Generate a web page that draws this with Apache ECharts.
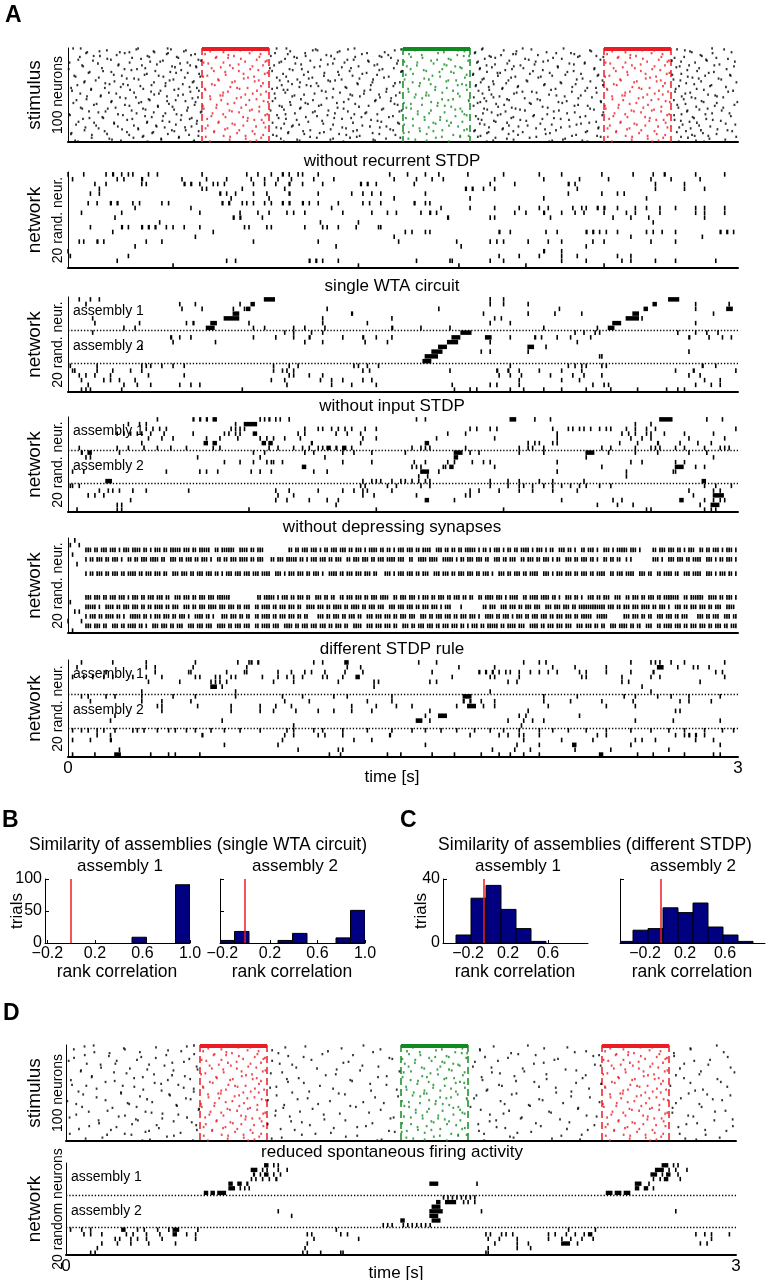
<!DOCTYPE html>
<html><head><meta charset="utf-8">
<script src="https://cdn.jsdelivr.net/npm/echarts@6/dist/echarts.min.js"></script>
<style>html,body{margin:0;padding:0;background:#fff}#c{width:767px;height:1280px}</style>
</head><body><div id="c"></div>
<script>
// ================= DATA =================
const timeTicks = [0, 3];
const patternLength = 0.3; // s
const patternWindows = [{start: 0.6, pattern: 'red'}, {start: 1.5, pattern: 'green'}, {start: 2.4, pattern: 'red'}];
const assemblyBounds = [6.5, 13.5];
const netTitles = ['without recurrent STDP', 'single WTA circuit', 'without input STDP', 'without depressing synapses', 'different STDP rule'];

// stimulus A background spikes, ms (100 input neurons, one string per neuron)
const stimA_background = [
"23 57 314 446 934 978 1283 1857 2036 2219 2884","306 461 1109 1254 1492 1853 2075 2727 2938","174 528 1096 1117 1463 1951 2337 2762","141 383 519 995 1216 2008 2343 2785",
"86 232 275 387 1207 1418 1824 2143 2793 2971","81 254 448 927 1062 1339 1821 2186 2252 2886","442 569 984 1316 1993 2005 2267","218 551 1157 1434 1939 2104 2832",
"115 143 356 908 1064 1178 1395 1887 2291 2366 2838","53 364 487 1013 1286 1404 1894 2283 2397 2759","287 494 1025 1446 1913 2172 2716 2903","176 327 972 1193 1866 2047 2211 2955",
"46 192 584 1132 1251 1279 2063 2384 2857","112 425 596 1085 1343 1478 1976 2149 2704 2861","368 413 955 1347 1836 2094 2128 2745 2986","7 276 535 946 1238 1831 2314 2808",
"134 502 1018 1186 1473 1967 2245 2313","227 398 1044 1163 1385 1912 2089 2265 2917","63 225 331 547 923 1372 1874 2026 2781 2894","68 466 573 1128 1301 1996 2192 2739 2982",
"479 575 1103 1226 1898 2194 2724","152 346 904 1267 1459 1845 2039 2358 2826","3 253 309 992 1047 1408 1843 1988 2356 2949","284 507 1006 1394 1958 2126 2773",
"157 391 914 1261 1496 2082 2264 2817","97 194 458 1075 1209 1491 1876 2236 2892","92 484 536 1148 1337 1923 1935 2157 2869","353 587 963 1318 1815 2068 2297 2746",
"205 343 1056 1213 1384 1813 2227 2375 2706 2964","28 241 406 1146 1274 1925 2168 2371 2853 2967","34 427 592 977 1436 2003 2117 2775","138 523 935 1094 1415 1984 2106 2796",
"263 296 1078 1305 1862 2304 2824 2913","316 472 1027 1225 1366 1855 2278 2711 2925","124 455 948 1165 1196 1972 2053 2393 2742","75 208 563 986 1174 1903 2057 2339 2835",
"72 385 558 1039 1363 1486 1848 2205 2993","167 437 1113 1295 1464 1962 2209 2768","186 247 514 1003 1298 1906 2135 2273 2804","42 268 374 957 1068 1356 1827 2131 2395 2881",
"324 436 1087 1121 1457 1825 2016 2736 2875","236 544 1036 1242 1884 2013 2258 2946","14 165 577 936 1247 1946 2325 2364","104 337 495 914 1188 1427 1944 2183 2721 2815",
"103 278 476 965 983 1354 1886 2163 2847","18 414 586 1136 1327 1838 2316 2978","372 548 1154 1425 2035 2077 2256 2718 2956","183 296 973 1218 1485 2009 2098 2367 2786",
"55 216 407 925 1104 1325 1856 1997 2764","386 515 1057 1264 1393 1896 2154 2866","147 493 1014 1273 1468 2187 2296 2898","85 146 443 1004 1307 1932 2224 2748 2906",
"233 304 582 1185 1397 1817 1905 2346 2792 2934","258 557 928 1158 1447 1864 2045 2285 2809","83 361 1043 1256 1966 2102 2757","38 366 482 1097 1378 1975 2114 2713",
"196 444 526 916 1374 1445 1873 2233 2385 2837","193 328 571 994 1235 1846 2196 2387 2846 2997","24 317 1063 1204 1834 2067 2213 2905","128 452 1074 1286 1462 1917 2073 2765",
"116 255 567 997 1134 1476 1953 2284 2728 2984","275 402 947 1123 1346 1816 2268 2327 2896","403 468 958 1303 1926 2125 2813","57 213 537 1042 1207 1987 2148 2733 2934",
"64 178 336 1038 1234 1412 1863 2004 2338 2864","347 475 967 1405 1877 2024 2355 2827","285 533 907 1166 1494 2046 2198 2774 2927","94 168 598 1106 1253 1484 1959 2175 2771",
"136 384 594 1096 1336 1897 2269 2397","307 436 1016 1195 1331 1858 2235 2884 2962","5 224 486 974 1282 1385 1937 2146 2747 2854","9 246 508 936 1162 1924 2087 2392 2714",
"345 426 1115 1455 1826 2083 2317 2968","154 375 1065 1314 1437 1994 2293 2797","96 158 554 943 1192 1268 1985 2176 2803","67 288 545 976 1227 1837 2124 2206 2858",
"265 505 1024 1357 1852 2025 2243 2716 2887","423 578 1138 1386 1907 2052 2744 2923","47 355 454 1076 1403 1915 2365 2783","117 206 353 916 1276 1477 1966 2334 2816",
"207 576 968 1143 1483 1844 2115 2297 2945","36 483 1035 1187 1865 2166 2277 2752 2988","126 295 394 1007 1318 1974 2058 2826","223 397 553 1002 1352 1426 2017 2246 2876",
"78 433 524 933 1228 1396 1885 2207 2376 2737","137 314 954 1245 1948 2096 2374 2788","242 315 1176 1443 1945 2136 2908","74 465 527 1085 1294 1456 1823 2185 2834 2953",
"164 476 585 1053 1277 1818 1994 2325 2767 2974","264 382 987 1146 1883 2036 2318 2726","16 377 985 1127 1364 1876 2158 2843","13 175 447 1058 1214 1394 1973 2139 2904",
"107 274 542 918 1246 1466 2015 2275 2794","338 584 934 1306 1847 2257 2369 2806 2867","334 497 1084 1293 1835 2097 2385 2745 2992","106 293 496 1114 1263 1488 1914 2067 2776",
"185 417 953 1187 1424 1965 2226 2872","197 418 1026 1175 1367 1995 2216 2943","32 237 565 1037 1375 1904 2168 2303 2812","44 356 562 966 1233 1875 2155 2326 2735 2848"];

// frozen input patterns, ms relative to pattern onset (100 neurons)
const patternRed = ["34","83 146","172 225","37","96","213","14 262","118","143","65 257","61 117","174","245","291","193 284","7 96","28","164","125 273","226",
"84","43 138","216","252","53 165","104","293","186 281","106","24","5 233","206","187","72","76 254","147 236","135","273","44","57",
"264","127","157 204","13 168","15","246","116 287","95","227","194 263","82 93","36","175","155","38 244","86 212","276","295","145","115",
"66 197","4","257","64 176","8","224","123 214","134 256","166","47","95 292","283","42","105 184","205","23","234 267","203","75","73 276",
"136","147","26 185","242","284","16 114","103","167","55 226","54","157","236","274","97 195","17 126","265","196","124","244","35 216"];
const patternGreen = ["114","56 193","53 246","275","183","157","27","84 243","272 296","36","87","204","153 214","126 292","6","64","137","185","62 195","17 234",
"256","263","34 176","93","104","163 215","227","45","12 285","132","166","277","95","7 116","203 238","194","43","76","124 264","245 283",
"73","145","196","23","144 286","224","25","105 176","246","57","103 115","254","52","86","175 224","203 294","295","126","4 156","35",
"85","154 187","216","15","36 257","234","125","66 265","186","117","66 275","285","235","96 167","13","44","97 166","196","266","136 215",
"146","5","45 206","247","115","74","286","176 274","76 136","26","3","106","225","256 294","174 256","147","24","55","106","205"];

// stimulus D background spikes, ms (reduced spontaneous rate)
const stimD_background = [
"124 573 1332 2068 2914","83 541 1072 1915","403 982 2245","259 1234 2141 2796","35 264 1408 1853 2797","457 923 1854","516 1173 2329","127 331 1375 2278 2945",
"195 951 1993 2722","574 1148 2025","84 449 1285 2103 2387","192 995 2361 2723","337 1064 1876 2963","36 402 1448 1979","552 1461 2203","318 1099 2187 2884",
"12 227 923 1934 2813","528 1265 1831","476 1242 2139","93 221 957 2095 2768","155 372 1013 2368 2876","441 1327 2394","585 1399 1822","157 1031 1905 2976",
"286 1124 2045 2749","364 589 1212 2237","67 481 1317 2285","66 1493 2052 2843","215 968 1907 2993","271 917 1943","394 1208 2151 2836","475 1163 2327 2731",
"116 532 1436 2008","115 344 1397 1861","305 1042 2313 2767","556 989 2152 2917","22 456 1273 1865","218 1281 2015","177 994 2097 2932","397 1065 2284 2796",
"426 1362 2396","27 503 1435 1939","91 254 1137 1952 2706","306 942 2118 2961","527 914 2193","137 572 1196 2342","346 1481 1887 2852","428 1366 1883 2817",
"56 572 1089 2263","246 1013 2195","247 1221 2017 2788","77 462 1249 1996 2871","466 943 1838 2975","331 1487 2262","137 1384 2346","537 1082 1827 2753",
"363 558 1037 2119 2896","177 904 2134 2938","6 1182 1946","386 1331 2389","276 1423 2226 2731","46 283 1129 1964 2836","494 977 2072","497 1273 2078",
"72 316 1298 1811 2846","208 973 2294 2716","596 1104 2292","594 1409 1857","186 939 1984 2953","102 356 1048 2163 2906","383 1357 2172 2715","432 1226 1959",
"46 503 1154 1898","264 937 2331 2786","236 1002 2376 2809","16 542 1467 2041","431 1453 2036","313 1157 2212 2985","146 322 1251 1926 2903","482 1008 1897",
"563 1056 2254","148 1372 2104 2826","296 903 1846 2778","406 583 1092 2366","104 1343 2126 2986","226 1304 1928 2742","416 1199 1967","58 961 2243",
"201 586 1024 2336 2862","372 1446 1849 2957","356 1472 2083","513 1186 2021","17 263 1117 1872 2748","184 293 1056 2309 2864","483 1304 2218","452 1253 1988",
"163 966 2004 2927","88 921 2176 2773","376 1413 2302 2822","342 568 1394 1873"];

// network rasters: 20 neurons each, tokens in 0.01 s: "t" = spike, "a-b" = burst
const netA1Rows = [
"0 7 17 20-21 24 27 29 36 40 60 80 85 91 96-97 99 103 105 112 144 152 160 166 179 195 211 221 239 253 262 267-268 281 294",
"2 22 25 33-34 51 62 71 82 88 94 100 110 119 146 156 163 168 191 213 229 242 261 270 283",
"12 17 33 35 52-53 55-56 59 65 67 70 83 88 93 99-100 105 114 131-132 134-135 138 155 189 200 224-225 227 263 276",
"14 60 62 78 97 178-179 181-182 186 191 228 263 276 285",
"10 14 68-69 71 75 83 89 99-100 112 127 132 136 140 160 224 239 246 249",
"73 90 146 180 213 259",
"9 13 19-20 22-23 29 32 42 45 69-70 72-73 78 80 83 88 91 96-97 99-100 105-106 108 112 121 132 135 140 155-156 160 162",
"30 55 118 167 180 191 202 211 215 226 230 232 237-238 240-241 246 254 259 265 272 281 285 294",
"6 24 59 77 85 90 98 101 106 123 136 143 147 158 162-163 165 200 205 213-214 221 227 231 240 250 254 265 281 285 294",
"21 74-75 77-78 87 170-171 189 191 216 244 252 260 285",
"41 113 130 262",
"10 24-25 27 33-34 36-37 39-40 44 47 52 59 79 81 89 91 106 114 116 121 129 139 140",
"20 65 151 154 160 162 193-194 198 214 219 232-233 235-236 238 241 246 259 262 266 272 292-293 295-296 298",
"57 146 252 284",
"5 7 13-14 16 35 42 83 112 148 174 189 192 195 206 215 221 235 240 261 272",
"30 120 176 232",
"0 213-214 221",
"1 27 193 202 211 221 228 246 252",
"22 71 75 108-109 111-112 114 121 156 171 172 189 195 221 232 248 252 263 272 290",
"47 130 175 205 240"];

const netA2Rows = [
"5 10 14 88-93 189 195 269-274",
"8 50 57 77 82-84 189 195 206 262-264 281 296",
"51 60 74 79 80-82 116 166 220 258-260 281 295-298",
"74-77 127-128 186 206 218 230 253-256 289",
"11 70-77 114 145 191 194 250-256 257",
"12 32 53 56-57 64-67 81 114 134 189 198 244-248 281",
"25 30 62-66 83 88 101 106 115 145-146 158 171 213 237 242-245",
"11 97 101 109 114 176-181 227 231 236 238 273 281 286 291",
"46-47 50 55 83 93 101 108-109 123 132-133 138 145 172-176 187-190 198 209-210 212 219 225 234 278-279 287 293 297",
"47 66 106 114 133 143 170-175 189 228",
"33 166-170 206-209 214",
"163-168 185 189 206 278",
"160-166 238 239",
"159-163",
"1 13 33 35 37 42 47 52 92 99 103 128 130 134 139 198 224 227 230 232 239 241 284-285 290",
"2 3 13 20 28 33 92 96 98 101 132 135 171 192-193 197-198 202 211 221 230 272 280-281 299",
"5 8 12 19 36 52 99 101 108 114 193 198 203 216 226 231 239 278 283",
"6 16 19 23 30 91 97 113 118 123 132 136 202 221 229 285 292",
"9 25 31 37 50 55 59 98 118 127 138 172 189 192 202 235 240 242 281 288 292",
"6 8 10 24 78 173 180 183 198 204 213 221 232 243 255 268 273 276"];

const netA3Rows = [
"40 56-57 59-60 62-63 65-67 86 88 90-91 93 95 99 156 160 198-201 209 216 265-271 286 293",
"27 32 35 75 79-85 254 261",
"35 38 41 44 73 75 77 79 106 112 114 118 121 124 127 133 138 180 183 189 192 217 224 226 229 231 234 238 241 243 250 254 259 263 299",
"22 25 28 31 33 37 43 56 70 72 75 77 83-85 103 106 120 125 131 170 178 219 248 251 254 259 261 267 276 289",
"36 42 47 62 68 76 86 89 92 97 104 132 138 165 191 219 252 257 261 278 294",
"33 61-63 65-67 87-89 90-92 109-110 131 160-162 206 209 211 217 219 247 255 264-265 274 282 288",
"5 22 27 34 40 46 53 65 68 90 94 101 105 108 112 114 116-118 120-121 123-125 127 154 158 160 162 178 202 206 208 213 239 243 254 261 263 265 272 276 285 292 294 296",
"6-7 9-11 23 83 88 106 110 123 128 136 151 173-177 180 184 202 213 232-236 242 254 264 278 286",
"8 10 58 86 115 173-175 232 289",
"70 77 83 89 91 92 96 123 136 155 160 170 173 181 186 189 219 252 257 272 276",
"105-107 154 156 158 168 169 171-173 191 239 272-276 281 285",
"2 7 44 59 62 67 82 86 91 110 116 158-162 166 219 250 271 272",
"157 161 250",
"17-20 132 136 138 140 145 149 151 154 157 160 162 189 197 202 211 217 231 284-286",
"1 2 5 131 133 143 147 158 162 189 197 202 204 208 213 217 221 225 229 232 238 243 285 290 297",
"14 18 20 23 29 35 54 93 99 112 123 128 132 134 145 180 184 193 202 208 217 228 278 289 292",
"9 12 16 94 101 132 137 156 178 180 280 289-294",
"28 93 98 108 116 121 160-162 173 221 244 248 274-276 285 289 292 294",
"22 24 120 237 246 253 283 288-292",
"4 22 24 81 138 195 259 261 285 288 290"];

// "without depressing synapses": sparse onset spikes + 7 neurons firing tonically (one char per 10 ms bin, '|' = spike)
const netA4SparseRows = ["3","1 5","","2","","4","","","","","","","","1","","3 5","","0 6","","2"];
const netA4DenseRows = {
 2: ["........||","|.||.|||.|","||.|.|||.|","|||.||.|.|","||.||.||||","|.|||.||.|","||||..||.|","|||||..|||","|.||.|||..",".........|",
     "|.||.|||.|","||.|.||.||","|.|||.||.|","||.|.||||.","||.||.|.||","|.|||.||.|","|||..|||.|","|.||.||.||","|||.|.||.|",".|||.|.||.",
     "||.||||.|.","|||.|.||..","|||.||.|..","||.|||.|..","|||.|.||||","|.|||.|...","..||.|||.|","||.||.|.||","|..||.||.|","||.|.|||.|"],
 4: ["........|.","||.|||.||.","|||.|..||.","||.|||.|||","|.||..|||.","||.|||.||.","|||.|..||.","||.|||.|||","|.||.|||..",".||.|||.||",
     "|||.||.|.|","||.|||.||.","|||..||.||","|.|||.||.|","||.||||.||","|..||..|||","|.||||..||","|||.|.||.|","||.|||.||.",".|||.||.||",
     "|..||.|||.","||.|||.|.|","|..|||.||.","|||.||.|..","||.||.||..","|.|.......","..|||.|..|","||.|||.||.","||||..|||.","|.||.|||.|"],
 7: ["........|.","||.|||.||.","|||.||.|||","|.||.|||.|","||.||..|||",".|||.||.||","|.|||.||.|",".|||.|||.|","||.|||.|||","|..|||.|.|",
     "||.|||.||.","|||.|..|||","|.||.|||.|","||.|||.||.","..|||.|.||","|.|||.||.|","||..|||.||","|.||.|||.|","||.||.|||.","|..|||.||.",
     "|||.||.|||","|..|||.|.|","||.|||.||.","|||.||.|||","|..||.|||.","||||..|||.","||..||.|||","|.||..|||.","||||..|||.","|.|||.||.|"],
 12: ["........||","|.|||.||.|","||.|||.|.|","||.||.|||.","|||.||..||","|.|||.||.|","||.|||.|||","|||.......",".....||.||","|||.|.|||.",
      "||.|||.||.",".|||.||.||","..||.|||.|","||.||.|||.","||||..||.|","||.|||.|.|","||.||.|||.","||.|||.||.","||..||.|||","|.|||.|.||",
      "||..||.|||","|.||||.||.","|..|||.||.","|..|||.||.","|||..|||..","||.|||.||.","|||.||.|||","||||..||.|","|||||..|||","|.||.|||.|"],
 14: ["........||","|||.|..|||","|.||.|||.|","||.||.||.|","|||.||.|||","..|||.||.|","||.||||.||","|.|||.||.|","||..||.|||","|.||.|||.|",
      "||.||..|||","|.|||.||.|","|||.||.|||","|.||.|||.|","||..|||.||","|.|||.||.|","||.|||.|.|","||....|...","......||.|","||..|||.||",
      "|.||.|||.|","||..|||.||","|.|||.||.|","||||||||||","|.|||.||.|","||.|||.|||","|.||.|||.|","..|||.||.|","||.|||.||.","|||..||||."],
 16: ["........|.","|||.||.|||","|.||.|..||","|||.||.|.|","||.|||.||.","|||.|..|||","|.||.|...|","||.|||.||.","||..||.|||","|.||.|||.|",
      "||.||.||..","..|||.||.|","||.||.|||.","||..|||.||","|.|||.||.|","||.|||..||","|.||.|||.|","||.||.|||.","|||.|..|||","|.||.|||.|",
      ".|||.||.||","|.|||.||.|","||.|||.||.","|||||..|||","||.......|","||.|||.||.","||..|||.||","|.||.|||..","..|||.||.|","||..|||.||"],
 18: ["........||","|.|||.||..","|||.||.|||","|.||.|..||","|.|||.||.|","||..|||.||","|.|||..|||","|.||.|||.|","||..||.|||","|.|||..|||",
      "|.||.|||.|","||.|||.||.","|||.||..||","||..|||.||","|.|||.||..","|||.||.|||",".|||.||.||","|.|||.||.|",".|||.||.||","|||.||.|||",
      "|.|||..|||","|.||.|||.|","||.|||..||","|.|||.||.|","|..|||.|||","|.||.||..|","||..||.|||","|.|||.||.|","||.|||.||.","|||.||.|||"]
};

const netA5Rows = [
"6 20 35 57 76 81 82-83 85-86 110 114 124-126 157 165 204 211 214 252 261 263 265 270 276 294",
"4 35 39 56 80 125 131 175 191 217 227 241 264-267 273 280 282 287",
"17 39 54 55 71 79 80 94 100 106 109 115 124 132 163 184-185 187-188 190-191 193 196 198 202 207 211 215 219 229 232 241 252 262-263 290 293",
"2 7 11 16 20 29 35 42 57 59 66 68 73 75 87 94 98 101 105 114 116 123 129-131 172 189 191 202 230 232 248 261 265 294",
"36 50 64 66 68 71 92 101 121 137 139 162 165 197 201 248 251 283",
"64-67 69 137 257",
"33 75 189 261",
"6 9 17 21 33 47 57 75 96 105 119 125 145 177-181 213 228 249 254 264 270 278 292",
"10 33 42 55 97 108 134 145 177-178 180-181 185 191 213 225 239 253 274 278 288",
"40 42 58 73 86 93 100 127 138 147 154 174 179-183 186 191 215 241 254",
"42 73 86 92 102 112 119 127 136 162 206 272 274",
"21 160 166-170 202 205 229",
"19 69 156-159 162 197 204 208 213 254 271 292",
"101 203",
"2 6 9 13 16 21 29 31 34 40 45 48 53 57 64 70 77 86 98 101 110 114 123 134 145 154 160 167 174 182 189 195 202 211 217 224 232 241 252 261 269 276 285 293 298",
"13 19 60-61 97 101 112 115 123 144-145 180 193 197 202 204 211 237 241 272 276 278-279 281-282 285",
"2 10 19-20 96 128 136 204 221 235 254 257 263 281 289",
"70 94 160 201 211 226-228 252 292",
"23 103 121 123 190 200 207 227 243 269",
"2 12 21-24 37 45 48 59 117 122 143 149 163 173 185 193 198 204 211 238-240 255 262 276 289 292"];

const netDRows = [
"89-91 93 95 267-270 272 274",
"83-86 88 90 95 99 264-268 270 273 278",
"84-85 87 89-91 93 96 262-265 267 269-271 274",
"83 85 88 91 94-95 263 266 268-270 275",
"73-75 77-79 81-82 163-167 184 255-258 261",
"73-76 78 80 82 255-257 259-261 263",
"62-64 65-67 68-72 242-245 246-249 250-253",
"169 171 173 175 177 179 181 183",
"166-168 170-175 178 180 183",
"164-168",
"95 163-169 186 273",
"101 163-167",
"150-152 164-168",
"142 144 146 151 153 155 157 159 161 163",
"2 7 11 25-27 32 35 41 46 48-51 59 121 225 237",
"8 11 16 27 30 36 42 48-50 54 58 108 110 123 126 188 190 195 197 200 216 219 224 228 232 234-236 282 286 289 297",
"22 24 29 32 36 43 58 111 131 189 194 202 216 222 226 231 236 289",
"16 23 29 37 49 108 192 202 207 222-226 229 284 287",
"14 107 189 202 208",
"11 13 106 108 114 123 124 188 189"];

// histograms of rank correlation (number of trials per bin)
const binsB = {start: -0.22, width: 0.122};
const histB1 = [0, 0, 0, 0, 0, 0, 9, 0, 0, 91];
const histB2 = [4, 18, 0, 0, 4, 15, 0, 0, 8, 51];
const baselineB = [0.0, -0.015];
const binsC = {start: -0.47, width: 0.15};
const histC1 = [0, 5, 28, 36, 21, 9, 1, 0, 0];
const histC2 = [1, 8, 9, 22, 19, 25, 10, 5, 1];
const baselineC = [-0.04, -0.045];
const ticksB = [-0.2, 0.2, 0.6, 1.0];
const ticksC = [-0.2, 0.2, 0.6];

// ================= BUILD =================
const FONT = 'Liberation Sans, Arial, Helvetica, sans-serif';
const RED = '#ec1c24', GREEN = '#128a22', NAVY = '#000080';
const grids = [], xAxes = [], yAxes = [], series = [], graphics = [];

function T(x, y, text, size, o) {
  o = o || {};
  return {type: 'text', x: x, y: y, rotation: o.rot ? Math.PI / 2 : 0, z: 100, silent: true,
    style: {text: text, fill: '#000', fontSize: size, fontFamily: FONT, fontWeight: o.bold ? 'bold' : 'normal',
      align: o.align || 'center', verticalAlign: 'middle'}};
}
function parseRow(str) {
  const out = [];
  if (!str) return out;
  str.trim().split(/\s+/).forEach(function (tok) {
    if (!tok) return;
    const m = tok.split('-');
    out.push([+m[0] / 100, (m.length > 1 ? +m[1] : +m[0]) / 100]);
  });
  return out;
}
function addGrid(left, top, width, height) {
  grids.push({left: left, top: top, width: width, height: height, containLabel: false, outerBoundsMode: 'none'});
  return grids.length - 1;
}
function rasterAxes(gi, nRows, showTicks, inverse) {
  xAxes.push({type: 'value', gridIndex: gi, min: 0, max: 3,
    axisLine: {show: true, onZero: false, lineStyle: {color: '#000', width: 2}},
    axisTick: {show: false}, splitLine: {show: false},
    axisLabel: showTicks ? {show: true, customValues: timeTicks, fontSize: 17, fontFamily: FONT, color: '#000', margin: 3} : {show: false}});
  yAxes.push({type: 'value', gridIndex: gi, min: inverse ? -0.5 : 0, max: inverse ? nRows - 0.5 : nRows, inverse: true,
    axisLine: {show: true, onZero: false, lineStyle: {color: '#000', width: 1}},
    axisTick: {show: false}, axisLabel: {show: false}, splitLine: {show: false}});
}
function rasterSeries(gi, items, hFrac, dotted) {
  const s = {type: 'custom', xAxisIndex: gi, yAxisIndex: gi, data: items, clip: false, silent: true, animation: false,
    renderItem: function (p, api) {
      const a = api.coord([api.value(0), api.value(2)]);
      const b = api.coord([api.value(1), api.value(2)]);
      const h = Math.abs(api.size([0, 1])[1]) * hFrac;
      const w = Math.max(b[0] - a[0], 1.6);
      return {type: 'rect', shape: {x: a[0] - 0.7, y: a[1] - h / 2, width: w, height: h}, style: {fill: '#000'}};
    }};
  if (dotted) {
    s.markLine = {silent: true, animation: false, symbol: ['none', 'none'], label: {show: false},
      lineStyle: {color: '#000', width: 1.3, type: [1.3, 1.9]},
      data: assemblyBounds.map(function (v) { return {yAxis: v}; })};
  }
  series.push(s);
}
function rasterItems(rows) {
  const items = [];
  rows.forEach(function (s, i) { parseRow(s).forEach(function (ab) { items.push([ab[0], ab[1], i]); }); });
  return items;
}
function stimulusPanel(left, top, width, height, bgRows) {
  const gi = addGrid(left, top, width, height);
  rasterAxes(gi, 100, false, false);
  const black = [], red = [], green = [];
  bgRows.forEach(function (s, i) { s.split(' ').forEach(function (v) { black.push([+v / 1000, i + 0.5]); }); });
  patternWindows.forEach(function (w) {
    const pat = w.pattern === 'red' ? patternRed : patternGreen;
    const target = w.pattern === 'red' ? red : green;
    pat.forEach(function (s, i) { s.split(' ').forEach(function (v) { target.push([w.start + (+v) / 1000, i + 0.5]); }); });
  });
  [[black, '#000'], [red, RED], [green, GREEN]].forEach(function (d) {
    series.push({type: 'scatter', xAxisIndex: gi, yAxisIndex: gi, data: d[0], symbol: 'rect', symbolSize: [1.8, 2.3],
      itemStyle: {color: d[1]}, silent: true, animation: false});
  });
  series.push({type: 'custom', xAxisIndex: gi, yAxisIndex: gi, clip: false, silent: true, animation: false,
    data: patternWindows.map(function (w) { return [w.start, w.start + patternLength, w.pattern === 'red' ? 0 : 1]; }),
    renderItem: function (p, api) {
      const col = api.value(2) === 0 ? RED : GREEN;
      const a = api.coord([api.value(0), 0]), b = api.coord([api.value(1), 0]);
      const bot = api.coord([api.value(0), 100])[1];
      return {type: 'group', children: [
        {type: 'line', shape: {x1: a[0], y1: a[1] + 1, x2: b[0], y2: a[1] + 1}, style: {stroke: col, lineWidth: 4}},
        {type: 'line', shape: {x1: a[0], y1: a[1], x2: a[0], y2: bot}, style: {stroke: col, lineWidth: 1.5, lineDash: [7, 4]}},
        {type: 'line', shape: {x1: b[0], y1: a[1], x2: b[0], y2: bot}, style: {stroke: col, lineWidth: 1.5, lineDash: [7, 4]}}
      ]};
    }});
  graphics.push(T(35, top + height / 2, 'stimulus', 19, {rot: true}));
  graphics.push(T(58, top + height / 2, '100 neurons', 14, {rot: true}));
}
function netPanel(left, top, width, height, items, opt) {
  const gi = addGrid(left, top, width, height);
  rasterAxes(gi, 20, !!opt.ticks, true);
  rasterSeries(gi, items, opt.hFrac || 0.8, !!opt.assemblies);
  graphics.push(T(392, top - 11, opt.title, 17));
  graphics.push(T(35, top + height / 2, 'network', 19, {rot: true}));
  graphics.push(T(58, top + height / 2, opt.ylabel || '20 rand. neur.', 14, {rot: true}));
  if (opt.assemblies) {
    graphics.push(T(left + 5, top + height * 0.15, 'assembly 1', 14, {align: 'left'}));
    graphics.push(T(left + 5, top + height * 0.52, 'assembly 2', 14, {align: 'left'}));
  }
}
function histPanel(left, top, bins, counts, baseline, ymax, yInterval, ticks, showY) {
  const gi = addGrid(left, top, 145, 64);
  xAxes.push({type: 'value', gridIndex: gi, min: bins === binsB ? -0.22 : -0.45, max: 1.0,
    axisLine: {show: true, onZero: false, lineStyle: {color: '#000', width: 1}},
    axisTick: {show: true, inside: true, length: 3, customValues: ticks, lineStyle: {color: '#000'}},
    axisLabel: {show: true, customValues: ticks, fontSize: 16, fontFamily: FONT, color: '#000', margin: 3,
      formatter: function (v) { return (v < 0 ? '\u22120.2' : v.toFixed(1)); }},
    splitLine: {show: false}});
  yAxes.push({type: 'value', gridIndex: gi, min: 0, max: ymax, interval: yInterval,
    axisLine: {show: true, onZero: false, lineStyle: {color: '#000', width: 1}},
    axisTick: {show: true, inside: true, length: 4, lineStyle: {color: '#000'}},
    axisLabel: {show: showY, fontSize: 16, fontFamily: FONT, color: '#000', margin: 3},
    splitLine: {show: false}});
  const data = counts.map(function (c, i) { return [bins.start + i * bins.width, bins.start + (i + 1) * bins.width, c]; })
    .filter(function (d) { return d[2] > 0; });
  series.push({type: 'custom', xAxisIndex: gi, yAxisIndex: gi, data: data, clip: true, silent: true, animation: false,
    renderItem: function (p, api) {
      const a = api.coord([api.value(0), api.value(2)]);
      const b = api.coord([api.value(1), 0]);
      return {type: 'rect', shape: {x: a[0], y: a[1], width: b[0] - a[0], height: b[1] - a[1]},
        style: {fill: NAVY, stroke: '#000', lineWidth: 1}};
    },
    markLine: {silent: true, animation: false, symbol: ['none', 'none'], label: {show: false},
      lineStyle: {color: RED, width: 1.5, type: 'solid'}, data: [{xAxis: baseline}]}});
  graphics.push(T(left + 72, 972, 'rank correlation', 17.5));
}

// ---- Panel A ----
graphics.push(T(5, 16, 'A', 23, {bold: true, align: 'left'}));
stimulusPanel(68, 48, 670, 94, stimA_background);
const netTops = [[172, 96], [297, 95], [417, 95], [538, 95], [660, 97]];
const net4Items = rasterItems(netA4SparseRows);
Object.keys(netA4DenseRows).forEach(function (r) {
  netA4DenseRows[r].join('').split('').forEach(function (c, k) { if (c === '|') net4Items.push([k / 100, k / 100, +r]); });
});
const netItems = [rasterItems(netA1Rows), rasterItems(netA2Rows), rasterItems(netA3Rows), net4Items, rasterItems(netA5Rows)];
netItems.forEach(function (items, i) {
  netPanel(68, netTops[i][0], 670, netTops[i][1], items,
    {title: netTitles[i], assemblies: i === 1 || i === 2 || i === 4, ticks: i === 4, hFrac: 0.95});
});
graphics.push(T(392, 777, 'time [s]', 17));

// ---- Panel B ----
graphics.push(T(2, 821, 'B', 23, {bold: true, align: 'left'}));
graphics.push(T(198, 845, 'Similarity of assemblies (single WTA circuit)', 17.5));
graphics.push(T(120, 866, 'assembly 1', 17));
graphics.push(T(295, 866, 'assembly 2', 17));
graphics.push(T(17, 911, 'trials', 17, {rot: true}));
histPanel(45, 879, binsB, histB1, baselineB[0], 100, 50, ticksB, true);
histPanel(220, 879, binsB, histB2, baselineB[1], 100, 50, ticksB, false);

// ---- Panel C ----
graphics.push(T(400, 821, 'C', 23, {bold: true, align: 'left'}));
graphics.push(T(595, 845, 'Similarity of assemblies (different STDP)', 17.5));
graphics.push(T(518, 866, 'assembly 1', 17));
graphics.push(T(693, 866, 'assembly 2', 17));
graphics.push(T(421, 911, 'trials', 17, {rot: true}));
histPanel(443, 879, binsC, histC1, baselineC[0], 40, 40, ticksC, true);
histPanel(620, 879, binsC, histC2, baselineC[1], 40, 40, ticksC, false);

// ---- Panel D ----
graphics.push(T(3, 1014, 'D', 23, {bold: true, align: 'left'}));
stimulusPanel(66, 1045, 670, 96, stimD_background);
netPanel(66, 1163, 670, 92, rasterItems(netDRows),
  {title: 'reduced spontaneous firing activity', assemblies: true, ticks: true, hFrac: 0.95, ylabel: '20 random neurons'});
graphics.push(T(396, 1273, 'time [s]', 17));

const chart = echarts.init(document.getElementById('c'), null, {renderer: 'canvas', width: 767, height: 1280});
chart.setOption({animation: false, backgroundColor: '#fff', grid: grids, xAxis: xAxes, yAxis: yAxes, series: series, graphic: graphics});
</script></body></html>
